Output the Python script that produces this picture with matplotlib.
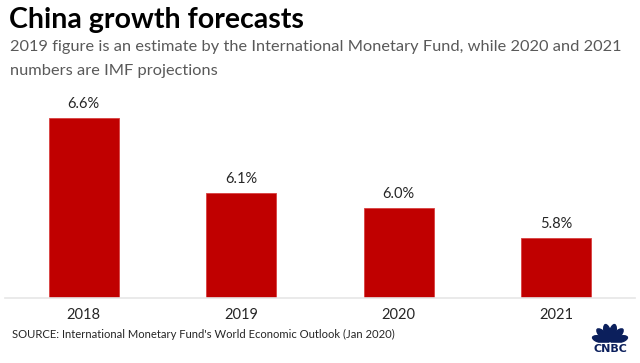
import math
import matplotlib.pyplot as plt
import matplotlib.patches as mpatches

years = ["2018", "2019", "2020", "2021"]
growth = [6.6, 6.1, 6.0, 5.8]
value_labels = ["6.6%", "6.1%", "6.0%", "5.8%"]

RED = "#C00000"
DARK = "#262626"
GRAY = "#595959"
NAVY = "#0B1F5C"

plt.rcParams["font.family"] = ["Lato", "DejaVu Sans"]

fig = plt.figure(figsize=(6.4, 3.63), dpi=100, facecolor="white")
ax = fig.add_axes([5 / 640, 1 - 298 / 363, 630 / 640, 198 / 363])

x = range(len(years))
ax.bar(x, growth, width=0.444, bottom=0, color=RED, edgecolor="#D84040", linewidth=0.6)
ax.set_ylim(5.4, 6.72)
ax.set_xlim(-0.5, len(years) - 0.5)

for xi, v, lab in zip(x, growth, value_labels):
    ax.text(xi, v + 0.045, lab, ha="center", va="bottom", fontsize=10.5, color=DARK)

for s in ("top", "right", "left"):
    ax.spines[s].set_visible(False)
ax.spines["bottom"].set_color("#E6E6E6")
ax.spines["bottom"].set_linewidth(1.2)
ax.set_yticks([])
ax.set_xticks(list(x))
ax.set_xticklabels(years, fontsize=10.5, color=DARK)
ax.tick_params(axis="x", length=0, pad=7)

fig.text(9 / 640, 1 - 7 / 363, "China growth forecasts", ha="left", va="top",
         fontsize=20.5, fontweight="bold", color="black")
fig.text(10 / 640, 1 - 47 / 363,
         "2019 figure is an estimate by the International Monetary Fund, while 2020 and 2021",
         ha="left", va="center", fontsize=11.8, color=GRAY)
fig.text(10 / 640, 1 - 71 / 363, "numbers are IMF projections",
         ha="left", va="center", fontsize=11.8, color=GRAY)
fig.text(12 / 640, 1 - 334 / 363,
         "SOURCE: International Monetary Fund's World Economic Outlook (Jan 2020)",
         ha="left", va="center", fontsize=8.1, color=DARK)

# CNBC peacock mark
lax = fig.add_axes([586 / 640, 1 - 354 / 363, 48 / 640, 40 / 363])
lax.set_xlim(0, 48)
lax.set_ylim(0, 40)
lax.axis("off")
for i in range(6):
    ang = 165 - i * 30
    cx = 24 + 9.5 * math.cos(math.radians(ang))
    cy = 12 + 9.5 * math.sin(math.radians(ang))
    lax.add_patch(mpatches.Ellipse((cx, cy), 17, 6.5, angle=ang, color=NAVY))
lax.add_patch(mpatches.Rectangle((2, 0), 44, 11.5, color="white"))
lax.text(24, 5.5, "CNBC", ha="center", va="center", fontsize=8, fontweight="bold",
         color=NAVY, family=["DejaVu Sans"])

fig.savefig("out.png", dpi=100, facecolor="white")
